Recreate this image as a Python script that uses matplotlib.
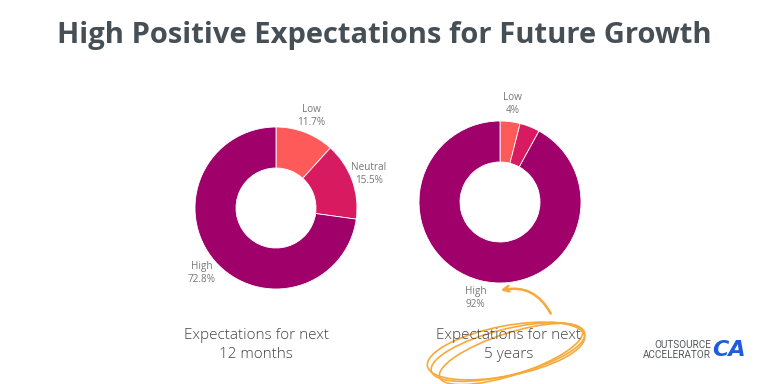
import matplotlib
matplotlib.use('Agg')
import matplotlib.pyplot as plt
from matplotlib.patches import Ellipse

# data
categories = ['Low', 'Neutral', 'High']
months12 = [11.7, 15.5, 72.8]
years5 = [4, 4, 92]
labels12 = ['Low\n11.7%', 'Neutral\n15.5%', 'High\n72.8%']
labels5 = ['Low\n4%', '', 'High\n92%']
colors = ['#FF5A5A', '#D81B60', '#A0006A']

plt.rcParams['font.family'] = ['Open Sans', 'DejaVu Sans']

fig = plt.figure(figsize=(7.68, 3.84), dpi=100)
ax = fig.add_axes([0, 0, 1, 1])

H = 384
wp = dict(width=41, edgecolor='white', linewidth=0.6)
tp = dict(fontsize=7.2, color='#777777', ha='center', va='center', linespacing=1.3)

ax.pie(months12, labels=labels12, colors=colors, center=(276, H - 208), radius=81,
       startangle=90, counterclock=False, labeldistance=1.22,
       wedgeprops=wp, textprops=tp, frame=True)
ax.pie(years5, labels=labels5, colors=colors, center=(500, H - 202), radius=81,
       startangle=90, counterclock=False, labeldistance=1.22,
       wedgeprops=wp, textprops=tp, frame=True)
ax.set_xlim(0, 768)
ax.set_ylim(0, 384)
ax.axis('off')

# title
ax.text(384, H - 35, 'High Positive Expectations for Future Growth', fontsize=21,
        fontweight='bold', color='#464E56', ha='center', va='center')

# captions
ax.text(256, H - 345, 'Expectations for next\n12 months', fontsize=11, color='#444444',
        ha='center', va='center', linespacing=1.3, fontweight=300)
ax.text(509, H - 345, 'Expectations for next\n5 years', fontsize=11, color='#444444',
        ha='center', va='center', linespacing=1.3, fontweight=300)

# hand drawn highlight
orange = '#F7A93B'
for w, h, ang, dx, dy in [(158, 46, 14, 0, 0), (150, 42, 18, 3, -2), (160, 50, 11, -2, 1)]:
    ax.add_patch(Ellipse((508 + dx, H - 352 + dy), w, h, angle=ang, fill=False,
                         edgecolor=orange, linewidth=1.2))
ax.annotate('', xy=(498, H - 291), xytext=(552, H - 316),
            arrowprops=dict(arrowstyle='->', color=orange, lw=1.8,
                            connectionstyle='arc3,rad=0.4'))

# logo
ax.text(711, H - 350, 'OUTSOURCE\nACCELERATOR', fontsize=7.2, color='#55585C',
        ha='right', va='center', linespacing=1.0, family=['Roboto', 'DejaVu Sans'])
ax.text(729, H - 350, 'CA', fontsize=16, fontweight='bold', fontstyle='italic',
        color='#1E5BE0', ha='center', va='center', family=['DejaVu Sans'])

fig.savefig('out.png', dpi=100)
